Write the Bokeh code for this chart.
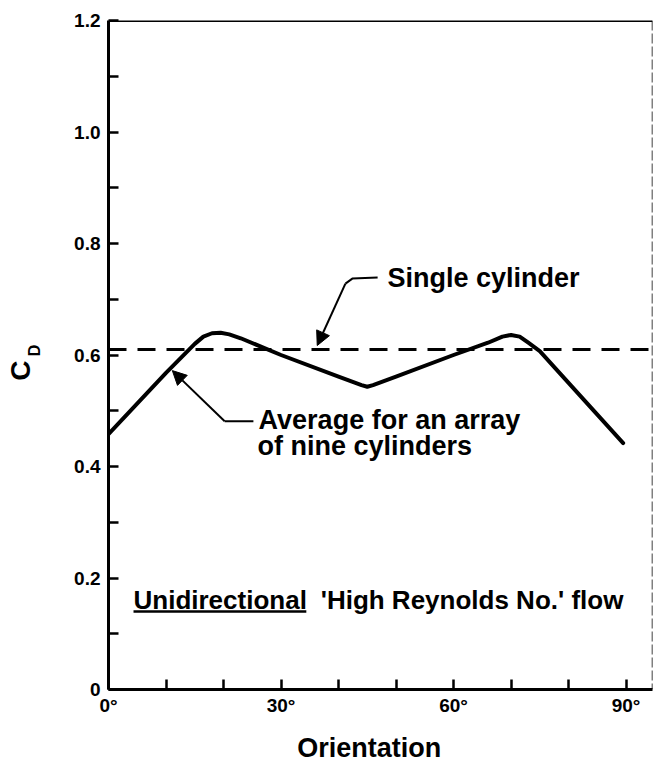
from bokeh.plotting import figure
from bokeh.models import (Range1d, FixedTicker, Label, Span, Arrow, NormalHead,
                          LinearAxis, PrintfTickFormatter)
from bokeh.embed import file_html
from bokeh.resources import INLINE

# ---- data ----
orientation = [0, 10, 15, 16.5, 18, 19.5, 21, 23, 30, 40, 44, 45, 46, 50, 60, 66, 68.5, 70, 71.5, 73, 75, 80, 89.5]
cd_array = [0.458, 0.568, 0.620, 0.633, 0.639, 0.640, 0.637, 0.630, 0.600, 0.561, 0.546, 0.543, 0.546,
            0.561, 0.600, 0.622, 0.633, 0.636, 0.633, 0.622, 0.607, 0.550, 0.442]
cd_single = 0.61

x_ticks = [0, 30, 60, 90]
x_minor = [10, 20, 40, 50, 70, 80]
x_labels = {0: "0°", 30: "30°", 60: "60°", 90: "90°"}
y_ticks = [0, 0.2, 0.4, 0.6, 0.8, 1.0, 1.2]
y_minor = [0.1, 0.3, 0.5, 0.7, 0.9, 1.1]
y_labels = {0: "0"}

FONT = "Liberation Sans"
NB = "\u00a0"
X_END = 94.6

p = figure(width=657, height=765, output_backend="svg", toolbar_location=None,
           x_range=Range1d(0, X_END), y_range=Range1d(0, 1.2),
           min_border_left=108, min_border_right=5, min_border_top=20, min_border_bottom=76)
p.outline_line_color = None
p.grid.visible = False
p.background_fill_color = "white"
p.border_fill_color = "white"

p.yaxis[0].formatter = PrintfTickFormatter(format="%.1f")
for ax, ticks, minor, labels in ((p.xaxis[0], x_ticks, x_minor, x_labels),
                                  (p.yaxis[0], y_ticks, y_minor, y_labels)):
    ax.ticker = FixedTicker(ticks=ticks, minor_ticks=minor)
    ax.major_label_overrides = labels
    ax.axis_line_width = 3
    ax.axis_line_color = "black"
    ax.major_tick_in = 10
    ax.major_tick_out = 0
    ax.minor_tick_in = 10
    ax.minor_tick_out = 0
    ax.major_tick_line_width = 2.5
    ax.minor_tick_line_width = 2.5
    ax.major_tick_line_color = "black"
    ax.minor_tick_line_color = "black"
    ax.major_label_text_font = FONT
    ax.major_label_text_font_style = "bold"
    ax.major_label_text_font_size = "19px"
    ax.major_label_text_color = "black"
    ax.axis_label_text_font = FONT
    ax.axis_label_text_font_style = "bold"
    ax.axis_label_text_color = "black"
p.xaxis.major_label_standoff = 5
p.yaxis.major_label_standoff = 8

p.xaxis.axis_label = "Orientation" + NB * 3
p.xaxis.axis_label_text_font_size = "27px"
p.xaxis.axis_label_standoff = 14

# y title: C with subscript D (D on the inner axis, C on an outer, otherwise empty axis)
p.yaxis[0].axis_label = NB * 2 + "D"
p.yaxis[0].axis_label_text_font_size = "16px"
p.yaxis[0].axis_label_standoff = 28

c_axis = LinearAxis(ticker=FixedTicker(ticks=[]), axis_label="C" + NB * 4,
                    axis_line_color=None, major_tick_line_color=None, minor_tick_line_color=None,
                    major_tick_out=0, minor_tick_out=0, major_label_standoff=0,
                    axis_label_standoff=-12, axis_label_text_font=FONT,
                    axis_label_text_font_style="bold", axis_label_text_font_size="28px",
                    axis_label_text_color="black")
p.add_layout(c_axis, "left")

# frame top and right edges
p.add_layout(Span(location=1.2, dimension="width", line_color="black", line_width=3))
p.add_layout(Span(location=X_END, dimension="height", line_color="black", line_width=1.5, line_dash="10 3"))

# single cylinder (dashed)
p.add_layout(Span(location=cd_single, dimension="width", line_color="black", line_width=3, line_dash="18 11"))

# array average (solid)
p.line(orientation, cd_array, line_color="black", line_width=4, line_join="round", line_cap="round")

# leaders
p.line([46.8, 42.4, 41.2], [0.739, 0.737, 0.728], line_color="black", line_width=2)
p.add_layout(Arrow(end=NormalHead(size=14, fill_color="black", line_color="black"),
                   x_start=41.2, y_start=0.728, x_end=36.3, y_end=0.617,
                   line_color="black", line_width=2))
p.line([25.2, 20.2], [0.481, 0.481], line_color="black", line_width=2)
p.add_layout(Arrow(end=NormalHead(size=14, fill_color="black", line_color="black"),
                   x_start=20.2, y_start=0.481, x_end=11.1, y_end=0.572,
                   line_color="black", line_width=2))

def lab(x, y, t, size):
    p.add_layout(Label(x=x, y=y, text=t, text_font=FONT, text_font_style="bold",
                       text_font_size=size, text_color="black", text_align="left",
                       text_baseline="middle"))

lab(48.5, 0.739, "Single cylinder", "27px")
lab(26.1, 0.484, "Average for an array", "27px")
lab(25.9, 0.436, "of nine cylinders", "27px")
lab(4.35, 0.1605, "Unidirectional", "26px")
lab(36.9, 0.1605, "'High Reynolds No.' flow", "26px")
p.line([4.35, 34.4], [0.140, 0.140], line_color="black", line_width=2.5)

open("out.html", "w").write(file_html(p, INLINE))
